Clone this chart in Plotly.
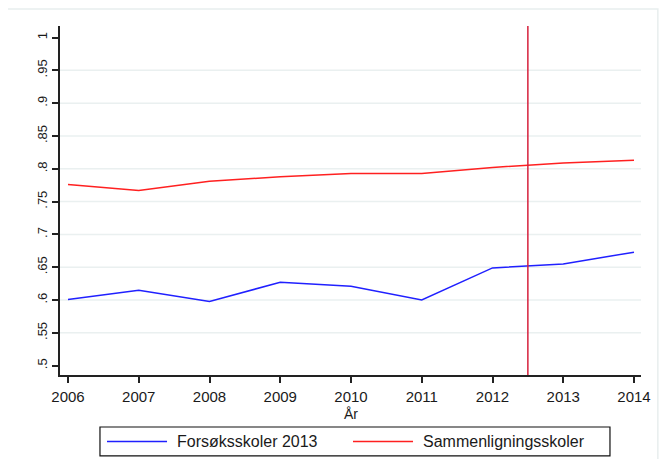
import plotly.graph_objects as go

years = [2006, 2007, 2008, 2009, 2010, 2011, 2012, 2013, 2014]
forsok = [0.601, 0.615, 0.598, 0.627, 0.621, 0.600, 0.649, 0.655, 0.673]
sammen = [0.776, 0.767, 0.781, 0.788, 0.793, 0.793, 0.802, 0.809, 0.813]

y_ticks = [0.5, 0.55, 0.6, 0.65, 0.7, 0.75, 0.8, 0.85, 0.9, 0.95, 1.0]
y_labels = [".5", ".55", ".6", ".65", ".7", ".75", ".8", ".85", ".9", ".95", "1"]
cutoff = 2012.5

series = [
    ("Forsøksskoler 2013", forsok, "#2020ff"),
    ("Sammenligningsskoler", sammen, "#ff2020"),
]

fig = go.Figure()

for name, vals, col in series:
    fig.add_trace(go.Scatter(
        x=years, y=vals, mode="lines", name=name,
        line=dict(color=col, width=1.5), showlegend=False,
    ))

# light grid lines, Stata style (none at the ends)
for v in y_ticks[1:-1]:
    fig.add_shape(type="line", xref="paper", yref="y", x0=0, x1=1, y0=v, y1=v,
                  line=dict(color="#eaf0f0", width=1.5), layer="below")

# treatment cut-off
fig.add_shape(type="line", xref="x", yref="paper", x0=cutoff, x1=cutoff, y0=0, y1=1,
              line=dict(color="#d6203c", width=1.5))

# faint outer frame
fig.add_shape(type="rect", xref="paper", yref="paper",
              x0=-0.095, x1=1.029, y0=-0.3, y1=1.049,
              line=dict(color="#e8eeee", width=1.5))

# hand-drawn legend box, Stata style
fig.add_shape(type="rect", xref="paper", yref="paper",
              x0=0.0688, x1=0.9466, y0=-0.232, y1=-0.149,
              line=dict(color="#111111", width=1.2))
leg_y = -0.1905
leg_pos = [(0.0809, 0.1842, 0.1979), (0.5043, 0.6076, 0.6205)]
for (name, _, col), (l0, l1, tx) in zip(series, leg_pos):
    fig.add_shape(type="line", xref="paper", yref="paper",
                  x0=l0, x1=l1, y0=leg_y, y1=leg_y,
                  line=dict(color=col, width=1.5))
    fig.add_annotation(x=tx, y=leg_y, xref="paper", yref="paper",
                       text=name, showarrow=False, xanchor="left", yanchor="middle",
                       font=dict(size=16))

# axis title sits right under the tick labels
fig.add_annotation(x=0.5, y=-0.112, xref="paper", yref="paper", text="År",
                   showarrow=False, xanchor="center", yanchor="middle",
                   font=dict(size=14))

fig.update_layout(
    width=659, height=451,
    margin=dict(l=52, r=26, t=18, b=84),
    paper_bgcolor="white", plot_bgcolor="white",
    font=dict(family="Liberation Sans, Arial, sans-serif", size=13, color="#1a1a1a"),
    showlegend=False,
    xaxis=dict(
        range=[2005.887, 2014.099],
        tickmode="array", tickvals=years, ticktext=[str(y) for y in years],
        showgrid=False, zeroline=False,
        showline=True, linecolor="#222222", linewidth=1.5,
        ticks="outside", ticklen=6, tickcolor="#222222", tickwidth=1.5,
        ticklabelstandoff=1,
        tickfont=dict(size=15),
    ),
    yaxis=dict(
        range=[0.4858, 1.0176],
        tickmode="array", tickvals=y_ticks, ticktext=y_labels,
        tickangle=-90,
        showgrid=False, zeroline=False,
        showline=True, linecolor="#222222", linewidth=1.5,
        ticks="outside", ticklen=6, tickcolor="#222222", tickwidth=1.5,
        tickfont=dict(size=13),
    ),
)

fig.write_html("out.html")
